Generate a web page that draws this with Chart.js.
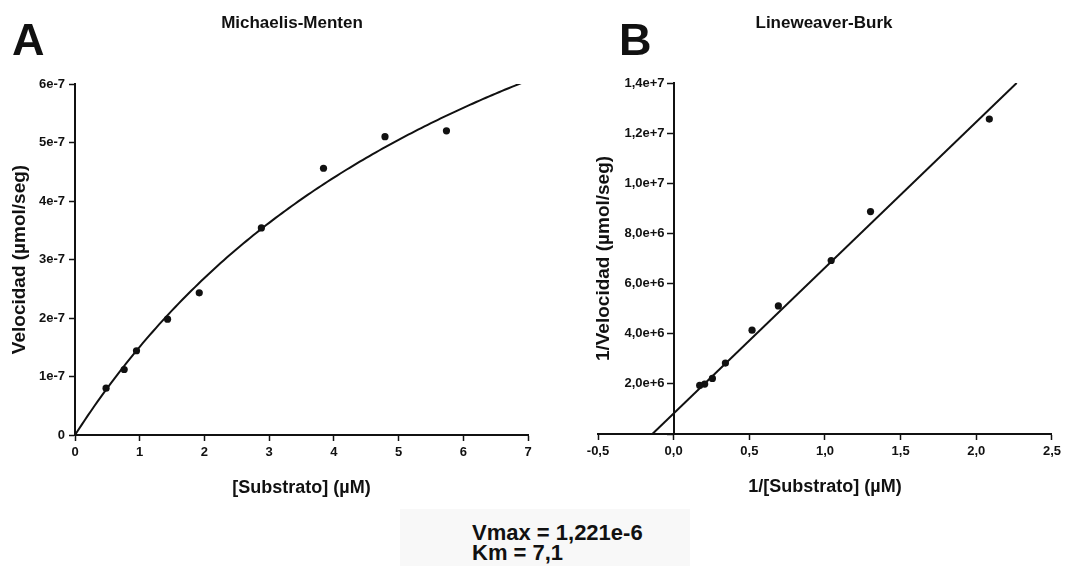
<!DOCTYPE html>
<html>
<head>
<meta charset="utf-8">
<title>Michaelis-Menten / Lineweaver-Burk</title>
<script src="https://cdn.jsdelivr.net/npm/chart.js@4.4.1/dist/chart.umd.min.js"></script>
<style>
  html, body { margin: 0; padding: 0; background: #fff; }
  #wrap { position: relative; width: 1065px; height: 566px; overflow: hidden;
          font-family: "Liberation Sans", Arial, sans-serif; color: #111; }
  canvas { position: absolute; top: 0; }
  #chartA { left: 0; }
  #chartB { left: 545px; }
  .letter { position: absolute; top: 17px; font-size: 45px; line-height: 45px; font-weight: bold; }
  .title { position: absolute; top: 13px; width: 260px; text-align: center;
           font-size: 17px; line-height: 20px; font-weight: bold; }
  #params { position: absolute; left: 400px; top: 509px; width: 290px; height: 57px; background: #f8f8f8; }
  #params div { position: absolute; left: 72px; top: 14px; font-size: 22px; line-height: 20px;
                font-weight: bold; white-space: pre; }
</style>
</head>
<body>
<div id="wrap">
  <canvas id="chartA" width="545" height="520"></canvas>
  <canvas id="chartB" width="520" height="520"></canvas>
  <div class="letter" style="left:12px;">A</div>
  <div class="letter" style="left:619px;">B</div>
  <div class="title" style="left:162px;">Michaelis-Menten</div>
  <div class="title" style="left:694px;">Lineweaver-Burk</div>
  <div id="params"><div>Vmax = 1,221e-6
Km = 7,1</div></div>
</div>
<script>
// Fitted kinetic constants (shown in the caption below the charts)
const VMAX = 1.221e-6;
const KM = 7.1;

// Measured substrate concentrations (µM) and initial velocities (µmol/seg)
const substrate = [0.48, 0.76, 0.95, 1.43, 1.92, 2.88, 3.84, 4.79, 5.74];
const velocity  = [0.80e-7, 1.12e-7, 1.44e-7, 1.98e-7, 2.43e-7, 3.54e-7, 4.56e-7, 5.10e-7, 5.20e-7];

// Double-reciprocal values of the same measurements
const invSubstrate = [2.086, 1.301, 1.041, 0.692, 0.518, 0.342, 0.256, 0.205, 0.172];
const invVelocity  = [1.256e7, 8.87e6, 6.92e6, 5.11e6, 4.14e6, 2.83e6, 2.215e6, 1.99e6, 1.936e6];

// Axis ticks and their labels
const xTicksA = [0, 1, 2, 3, 4, 5, 6, 7];
const xTickLabelsA = ['0', '1', '2', '3', '4', '5', '6', '7'];
const yTicksA = [0, 1e-7, 2e-7, 3e-7, 4e-7, 5e-7, 6e-7];
const yTickLabelsA = ['0', '1e-7', '2e-7', '3e-7', '4e-7', '5e-7', '6e-7'];
const xTicksB = [-0.5, 0, 0.5, 1, 1.5, 2, 2.5];
const xTickLabelsB = ['-0,5', '0,0', '0,5', '1,0', '1,5', '2,0', '2,5'];
const yTicksB = [0, 2e6, 4e6, 6e6, 8e6, 1e7, 1.2e7, 1.4e7];
const yTickLabelsB = ['', '2,0e+6', '4,0e+6', '6,0e+6', '8,0e+6', '1,0e+7', '1,2e+7', '1,4e+7'];

// Michaelis-Menten curve v = Vmax·S / (Km + S) over the plotted range
const fitA = [];
for (let i = 0; i <= 140; i++) {
  const s = i * 0.05;
  fitA.push({ x: s, y: VMAX * s / (KM + s) });
}

// Lineweaver-Burk line 1/v = (Km/Vmax)·(1/S) + 1/Vmax, from the x-intercept to the top of the axis
const slopeB = KM / VMAX;
const interceptB = 1 / VMAX;
const yTopB = yTicksB[yTicksB.length - 1];
const lineB = [
  { x: -1 / KM, y: 0 },
  { x: (yTopB - interceptB) / slopeB, y: yTopB }
];

const INK = '#111';
const FAMILY = '"Liberation Sans", Arial, sans-serif';
const TICK_FONT = { family: FAMILY, size: 13, weight: 'bold' };
const X_TITLE_FONT = { family: FAMILY, size: 18, weight: 'bold' };
const Y_TITLE_FONT = { family: FAMILY, size: 19, weight: 'bold' };

// An axis placed at x = 0 puts its labels flush against the line,
// so they carry a little trailing space to clear the tick marks.
const GAP = '\u2002\u2009';

const fixedTicks = values => scale => { scale.ticks = values.map(v => ({ value: v })); };

function tickedAxis(values, labels, extra, suffix) {
  const tail = suffix || '';
  return Object.assign({
    type: 'linear',
    min: values[0],
    max: values[values.length - 1],
    afterBuildTicks: fixedTicks(values),
    ticks: { callback: (v, i) => labels[i] ? labels[i] + tail : '', font: TICK_FONT, color: INK, padding: 4,
             maxRotation: 0, autoSkip: false },
    grid: { drawOnChartArea: false, drawTicks: true, tickLength: 6, tickWidth: 1.5, tickColor: INK },
    border: { display: true, color: INK, width: 2 }
  }, extra);
}

const pointStyle = { showLine: false, pointRadius: 3.6, pointBackgroundColor: INK, pointBorderWidth: 0 };
const lineStyle = { showLine: true, borderColor: INK, borderWidth: 2, pointRadius: 0, tension: 0 };
const common = { responsive: false, animation: false, events: [],
                 plugins: { legend: { display: false }, tooltip: { enabled: false } } };

new Chart(document.getElementById('chartA'), {
  type: 'scatter',
  data: {
    datasets: [
      Object.assign({ data: fitA }, lineStyle),
      Object.assign({ data: substrate.map((s, i) => ({ x: s, y: velocity[i] })) }, pointStyle)
    ]
  },
  options: Object.assign({}, common, {
    layout: { padding: { top: 84, right: 17, left: 0, bottom: 0 } },
    scales: {
      x: tickedAxis(xTicksA, xTickLabelsA, {
        position: 'bottom',
        afterFit: s => { s.height = 85; },
        title: { display: true, text: '[Substrato] (µM)', font: X_TITLE_FONT, color: INK,
                 padding: { top: 0, bottom: 21 } }
      }),
      y: tickedAxis(yTicksA, yTickLabelsA, {
        position: 'left',
        afterFit: s => { s.width = 75; },
        title: { display: true, text: 'Velocidad (µmol/seg)', font: Y_TITLE_FONT,
                 color: INK, padding: { top: 8, bottom: 0 } }
      })
    }
  })
});

new Chart(document.getElementById('chartB'), {
  type: 'scatter',
  data: {
    datasets: [
      Object.assign({ data: lineB }, lineStyle),
      Object.assign({ data: invSubstrate.map((s, i) => ({ x: s, y: invVelocity[i] })) }, pointStyle)
    ]
  },
  options: Object.assign({}, common, {
    layout: { padding: { top: 83, right: 11.5, left: 0, bottom: 0 } },
    scales: {
      x: tickedAxis(xTicksB, xTickLabelsB, {
        position: 'bottom',
        afterFit: s => { s.height = 86; },
        title: { display: true, text: '1/[Substrato] (µM)', font: X_TITLE_FONT, color: INK,
                 padding: { top: 0, bottom: 22 } }
      }),
      // left-hand scale carries only the axis title
      y: {
        type: 'linear', position: 'left', min: 0, max: yTopB,
        ticks: { display: false }, grid: { display: false }, border: { display: false },
        afterFit: s => { s.width = 53; },
        title: { display: true, text: '1/Velocidad (µmol/seg)', font: Y_TITLE_FONT,
                 color: INK, padding: { top: 47, bottom: 0 } }
      },
      // vertical axis drawn through x = 0
      yAxis: tickedAxis(yTicksB, yTickLabelsB, {
        axis: 'y',
        position: { x: 0 }
      }, GAP)
    }
  })
});
</script>
</body>
</html>
